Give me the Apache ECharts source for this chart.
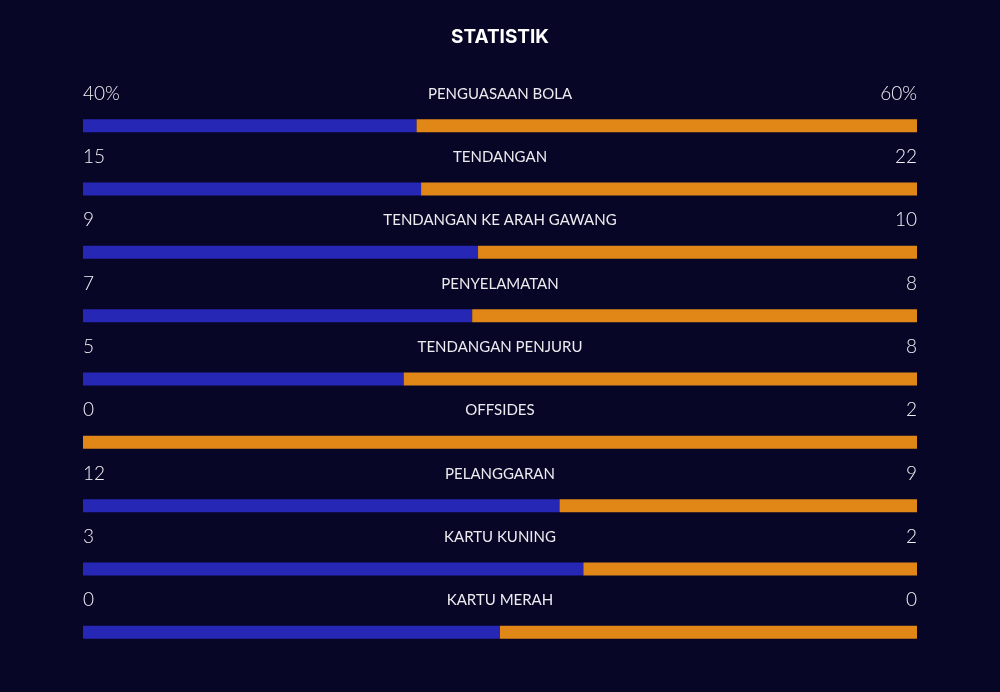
<!DOCTYPE html>
<html>
<head>
<meta charset="utf-8">
<script src="https://cdn.jsdelivr.net/npm/echarts@6/dist/echarts.min.js"></script>
<style>
html,body{margin:0;padding:0;background:#070626;}
#chart{width:1000px;height:692px;}
</style>
</head>
<body>
<div id="chart"></div>
<script>
// data statistik
var labels = ['PENGUASAAN BOLA', 'TENDANGAN', 'TENDANGAN KE ARAH GAWANG', 'PENYELAMATAN', 'TENDANGAN PENJURU', 'OFFSIDES', 'PELANGGARAN', 'KARTU KUNING', 'KARTU MERAH'];
var leftVals = [40, 15, 9, 7, 5, 0, 12, 3, 0];
var rightVals = [60, 22, 10, 8, 8, 2, 9, 2, 0];
var leftText = ['40%', '15', '9', '7', '5', '0', '12', '3', '0'];
var rightText = ['60%', '22', '10', '8', '8', '2', '9', '2', '0'];

// share of each side, 0-0 shown as half
var leftShare = leftVals.map(function(v, i){
	var t = v + rightVals[i];
	return t === 0 ? 0.5 : v / t;
});
var rightShare = leftShare.map(function(v){ return 1 - v; });

var myChart = echarts.init(document.getElementById('chart'));
var option = {
	backgroundColor: '#070626',
	title: {
		text: 'STATISTIK',
		left: 'center',
		top: 23,
		textStyle: {color: '#ffffff', fontFamily: 'Inter', fontWeight: 'bold', fontSize: 19}
	},
	grid: {left: 83, right: 83, top: 94, bottom: 28},
	xAxis: {type: 'value', min: 0, max: 1, show: false},
	yAxis: {type: 'category', data: labels, inverse: true, show: false},
	series: [{
		type: 'bar',
		stack: 'a',
		data: leftShare,
		barWidth: 13,
		itemStyle: {color: '#2727b6'},
		silent: true
	}, {
		type: 'bar',
		stack: 'a',
		data: rightShare,
		barWidth: 13,
		itemStyle: {color: '#e08718'},
		silent: true
	}, {
		// teks nilai dan label di atas bar
		type: 'custom',
		silent: true,
		data: labels.map(function(l, i){ return [0, i]; }),
		encode: {x: 0, y: 1},
		renderItem: function(params, api){
			var i = api.value(1);
			var p0 = api.coord([0, i]);
			var p1 = api.coord([1, i]);
			var y = p0[1] - 32;
			return {
				type: 'group',
				children: [{
					type: 'text',
					style: {x: p0[0], y: y, text: leftText[i], fill: '#f2f2f5', font: '300 19px Lato', align: 'left', verticalAlign: 'middle'}
				}, {
					type: 'text',
					style: {x: (p0[0] + p1[0]) / 2, y: y, text: labels[i], fill: '#ececf0', font: '15px Lato', align: 'center', verticalAlign: 'middle'}
				}, {
					type: 'text',
					style: {x: p1[0], y: y, text: rightText[i], fill: '#f2f2f5', font: '300 19px Lato', align: 'right', verticalAlign: 'middle'}
				}]
			};
		}
	}]
};
myChart.setOption(option);
</script>
</body>
</html>
